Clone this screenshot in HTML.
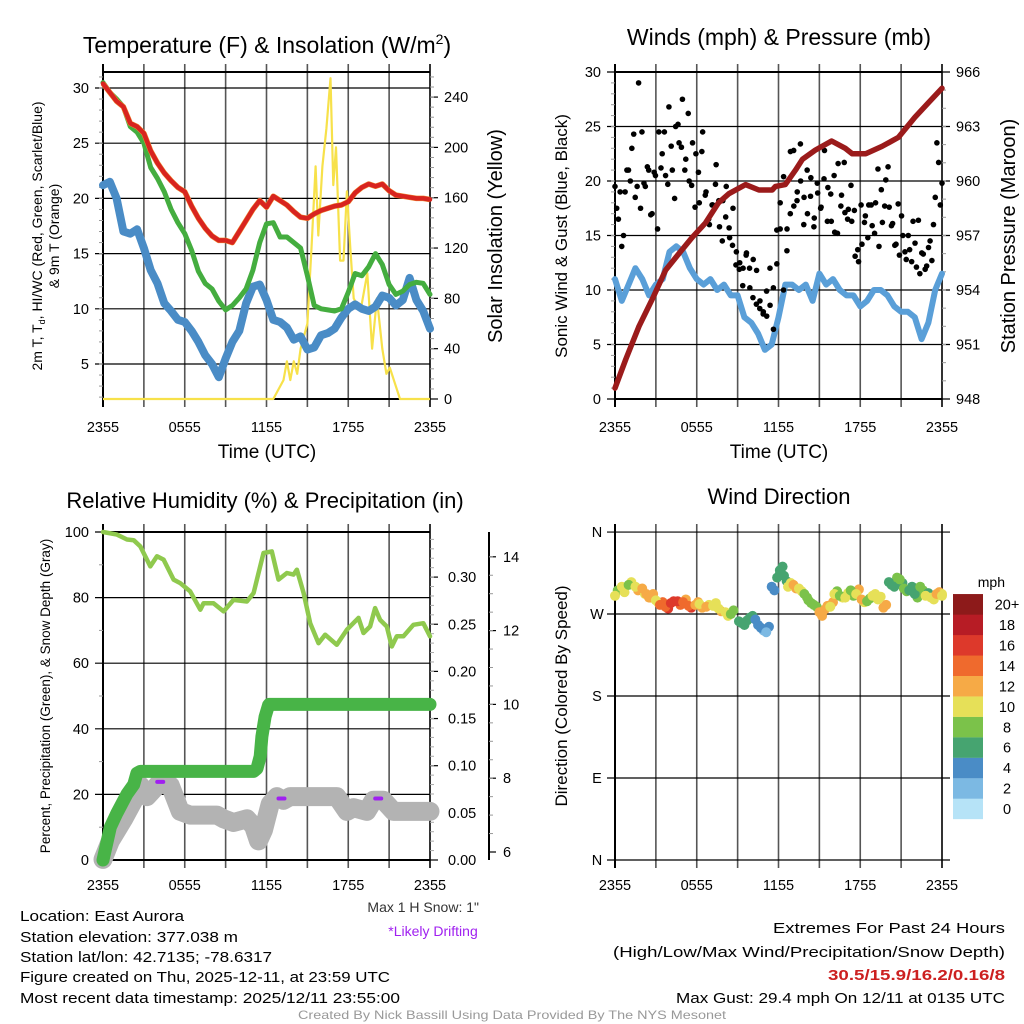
<!DOCTYPE html>
<html><head><meta charset="utf-8"><style>
html,body{margin:0;padding:0;background:#fff}
svg{display:block;font-family:"Liberation Sans",sans-serif}
</style></head><body>
<svg id="fig" width="1024" height="1024" viewBox="0 0 1024 1024" xmlns="http://www.w3.org/2000/svg">
<rect width="1024" height="1024" fill="#fff"/>
<g id="layer"></g>
<g fill="#000">
<text x="267" y="53" font-size="23" text-anchor="middle">Temperature (F) &amp; Insolation (W/m<tspan font-size="14" dy="-9">2</tspan><tspan dy="9">)</tspan></text>
<text x="779" y="45" font-size="23" text-anchor="middle">Winds (mph) &amp; Pressure (mb)</text>
<text x="265" y="508" font-size="22" text-anchor="middle">Relative Humidity (%) &amp; Precipitation (in)</text>
<text x="779" y="504" font-size="22" text-anchor="middle">Wind Direction</text>
<text x="267" y="458" font-size="19" text-anchor="middle">Time (UTC)</text>
<text x="779" y="458" font-size="19" text-anchor="middle">Time (UTC)</text>
<text transform="translate(42,236) rotate(-90)" font-size="14" text-anchor="middle">2m T, T<tspan font-size="9" dy="3">d</tspan><tspan dy="-3">, HI/WC (Red, Green, Scarlet/Blue)</tspan></text>
<text transform="translate(59,236) rotate(-90)" font-size="14" text-anchor="middle">&amp; 9m T (Orange)</text>
<text transform="translate(502,236) rotate(-90)" font-size="20" text-anchor="middle">Solar Insolation (Yellow)</text>
<text transform="translate(567,236) rotate(-90)" font-size="17" text-anchor="middle">Sonic Wind &amp; Gust (Blue, Black)</text>
<text transform="translate(1015,236) rotate(-90)" font-size="20" text-anchor="middle">Station Pressure (Maroon)</text>
<text transform="translate(50,696) rotate(-90)" font-size="13.5" text-anchor="middle">Percent, Precipitation (Green), &amp; Snow Depth (Gray)</text>
<text transform="translate(567,696) rotate(-90)" font-size="17" text-anchor="middle">Direction (Colored By Speed)</text>
<text x="1005" y="587" font-size="14" text-anchor="end">mph</text>
<text x="479" y="912" font-size="14" text-anchor="end" fill="#333">Max 1 H Snow: 1"</text>
<text x="433" y="936" font-size="14" text-anchor="middle" fill="#a020f0">*Likely Drifting</text>
<g font-size="14.5">
<text x="20" y="921" textLength="164" lengthAdjust="spacingAndGlyphs">Location: East Aurora</text>
<text x="20" y="942" textLength="218" lengthAdjust="spacingAndGlyphs">Station elevation: 377.038 m</text>
<text x="20" y="962" textLength="252" lengthAdjust="spacingAndGlyphs">Station lat/lon: 42.7135; -78.6317</text>
<text x="20" y="982" textLength="370" lengthAdjust="spacingAndGlyphs">Figure created on Thu, 2025-12-11, at 23:59 UTC</text>
<text x="20" y="1003" textLength="380" lengthAdjust="spacingAndGlyphs">Most recent data timestamp: 2025/12/11 23:55:00</text>
</g>
<g font-size="15" text-anchor="end">
<text x="1005" y="933" textLength="232" lengthAdjust="spacingAndGlyphs">Extremes For Past 24 Hours</text>
<text x="1005" y="957" textLength="392" lengthAdjust="spacingAndGlyphs">(High/Low/Max Wind/Precipitation/Snow Depth)</text>
<text x="1005" y="980" fill="#cc2020" font-weight="bold" textLength="177" lengthAdjust="spacingAndGlyphs">30.5/15.9/16.2/0.16/8</text>
<text x="1005" y="1003" textLength="329" lengthAdjust="spacingAndGlyphs">Max Gust: 29.4 mph On 12/11 at 0135 UTC</text>
</g>
<text x="512" y="1019" font-size="12" fill="#999" text-anchor="middle" textLength="428" lengthAdjust="spacingAndGlyphs">Created By Nick Bassill Using Data Provided By The NYS Mesonet</text>
</g>
</svg>
<script>
// ---- data (hours since 2355 UTC; 0.5 h grid unless noted) ----
const xTickLabels = ["2355","0555","1155","1755","2355"];
const tempF = [30.4,29.6,28.8,28.3,26.8,26.5,25.9,24.3,23.2,22.3,21.6,21,20.6,19.3,18.2,17.3,16.6,16.2,16.2,16,17,18,19,19.8,19.2,20.2,19.8,19.4,18.8,18.3,18.2,18.6,18.9,19.1,19.3,19.4,19.7,20.5,21,21.3,21.1,21.3,20.7,20.3,20.2,20.1,20,20,19.9];
const chillF = [30.5,29.6,29,28.3,26.5,26,25,22.8,21.8,20.6,19,17.8,16.8,15.3,13.4,12.3,11.8,10.7,9.9,10.3,11,11.8,13.5,16,17.7,17.8,16.5,16.5,16,15.5,13,10.3,10,9.9,9.8,10,11.5,13.2,13,13.8,15,14,12.2,11.3,11.6,12.2,12.4,12.3,11.3];
const dewF = [21.2,21.5,20,17,16.8,17.2,15.5,13.5,12.3,10.5,9.8,9,8.8,8,7,5.8,5,3.8,5.5,7,8,10.5,12,12.2,10.8,9,8.8,8.3,7.2,7.5,6.3,6.5,7.6,7.8,8.2,9.2,10,10.4,10,9.8,10.2,11.2,11,10.3,10.8,12.8,10.8,9.8,8.2];
const solarT = [0,12.5,13.25,13.5,13.75,14,14.25,14.5,14.75,15,15.3,15.6,15.8,16.1,16.4,16.7,16.9,17.1,17.4,17.65,17.9,18.15,18.4,18.9,19.4,19.75,20.1,20.5,20.8,21.05,21.8,24];
const solarW = [0,0,15,30,15,30,20,40,50,60,120,185,130,185,215,255,170,200,110,110,165,120,80,70,100,40,80,40,20,25,0,0];
const pressT = [0,0.8,1.76,2.74,3.72,4.69,5.67,6.65,7.6,8.36,9.58,10.56,11.54,11.78,12.5,13.25,13.76,14.7,15.9,16.9,17.4,18.4,19.6,20.8,22,23,24];
const pressMb = [948.6,950.2,952,953.5,955.1,956,956.9,957.7,958.8,959.3,959.8,959.5,959.5,959.7,959.8,960.6,961.2,961.7,962.2,961.8,961.5,961.5,961.9,962.4,963.5,964.3,965.1];
const windMph = [11,9,10.5,12,11,9.5,10.5,11,13.5,14,13.5,12,11,10.5,11,10,10.5,9.5,9.5,7.5,7,6,4.5,5,7.5,10.5,10.5,10,10.5,9,11.5,10.5,11,10,9.5,9.5,8.5,9,10,10,9.5,8.5,8,8,7.5,5.5,7,10,11.5];
const gustMph = [19.5,16.5,14,19,21,23,18.5,29,24.5,19.5,21,17,20.5,24.5,22.5,20.5,26.8,21,25,23.5,27.5,22,20,23.5,22.5,18,24.5,19,16,17.8,21.5,15.8,18.2,19.5,14.8,17.5,13.5,12.5,12,13.4,10.2,12.8,11.8,9,8,7.6,8.6,6.4,12.4,15.6,10,13.6,17,22.8,18.2,23.4,16,21,18.6,15.8,19.8,17.5,20.2,16.3,18.8,20.5,15.2,17.7,21.7,16.5,19.6,17.3,13.7,17.8,16.2,14.8,17.8,15.2,21.1,19.2,17.7,21.3,15.9,14.1,17.9,16.8,13.5,15,12.6,14.3,16.4,13.4,11.9,13.9,12.7,18.5,21.7,19.8];
const gustMph2 = [17.5,19,15,21,20,24.3,19.5,17.5,19.8,21.3,16.9,20.8,15.6,21.2,24.5,19.7,23.2,18.4,25.2,23.1,21,26.2,19.6,17.6,20.8,22.7,18.7,16.5,17.8,19.7,18.2,14.5,16.7,15.7,14.1,12.3,11.9,10.4,13.2,12,9.3,8.7,8.3,7.8,9.9,12,10.2,15.5,18,20.4,15.6,22.7,17.7,19,20,18.5,17,20.3,16.6,18.9,17.6,22.8,19.4,16.3,15.3,21.6,18.7,17.1,17.4,16.3,13.1,12.6,14.2,16.8,17.8,15.9,18,14,16.2,20.1,17.6,16.1,14.2,13.2,15,12.8,13.7,16.3,12.1,11.5,13.3,12.2,14.5,16,23.5,17.8];
const rhT = [0,1.03,1.76,2.25,2.74,3.47,3.96,4.45,5.18,5.67,6.4,7.14,7.38,8.11,8.85,9.58,10.56,11.05,11.78,12.39,12.88,13.5,13.98,14.23,14.72,15.21,15.82,16.31,17.16,17.9,18.75,19.12,19.6,19.97,20.34,20.83,21.2,21.56,22.05,22.78,23.51,24];
const rhPct = [100,99.2,97.7,97.5,95.6,89.5,92.6,91.6,85.5,84.4,81.9,76.3,78.3,78.3,75.8,79.3,78.8,81.4,93.6,94.1,85.5,87.5,87,88.5,81.4,72.2,66.1,68.7,65.6,70.2,73.8,69.2,71.2,76.8,73.2,71.2,65.1,68.2,68.2,71.7,72.2,68.2];
const precipT = [0,0.54,1.03,1.76,2.25,2.49,2.74,11.05,11.3,11.54,11.66,11.9,12.15,12.2,24];
const precipIn = [0,0.035,0.05,0.07,0.08,0.092,0.094,0.094,0.097,0.11,0.131,0.152,0.164,0.165,0.165];
const snowT = [0,0.54,1.52,2.25,2.74,3.23,3.72,4.2,4.94,5.67,6.4,7.6,8.36,8.85,9.58,10.56,11.05,11.41,11.78,12.27,12.76,13.25,13.74,17.16,17.9,18.39,19.36,19.85,20.58,21.32,24];
const snowIn = [5.8,6.3,6.9,7.4,7.8,7.5,7.7,7.9,7.8,7.1,7.0,7.0,7.0,6.9,6.8,6.9,6.7,6.3,6.6,7.3,7.5,7.4,7.5,7.5,7.1,7.2,7.1,7.4,7.4,7.1,7.1];
const driftT = [4.2,13.1,20.2];
const driftIn = [7.9,7.45,7.45];
const dirTime = [0,0.5,1,1.5,2,2.3,2.6,3,3.3,3.7,4.1,4.6,5,5.4,5.9,6.2,6.7,7.2,7.6,8.1,8.5,9.1,9.5,9.9,10.3,10.7,11.1,11.5,11.9,12.1,12.4,12.7,13.1,13.5,13.9,14.2,14.6,15,15.4,15.8,16.1,16.5,16.9,17.3,17.7,18.1,18.5,18.9,19.3,19.7,20.1,20.5,20.9,21.2,21.6,22,22.4,22.8,23.2,23.6,24];
const dirDeg = [290,300,302,300,298,292,288,285,280,278,282,284,283,279,280,281,278,279,276,272,270,262,258,266,264,255,250,300,310,318,312,300,302,298,292,285,280,272,275,278,292,290,288,296,292,286,284,290,286,277,305,300,308,298,296,292,300,290,288,292,290];
const dirSpd = [10,11,9,10,12,12,13,11,14,15,17,16,14,15,13,11,12,10,11,10,9,7,7,6,5,4,3,4,6,6,7,10,12,11,9,8,8,12,13,11,10,9,11,8,10,12,9,10,11,12,7,6,8,9,7,6,8,10,10,12,11];
const dirDeg2 = [296,294,305,296,292,288,292,282,283,276,284,280,286,277,283,277,280,282,273,268,274,260,263,268,258,252,256,296,314,322,306,304,298,295,288,282,278,268,279,283,295,288,293,290,297,283,287,292,289,280,302,310,304,295,300,288,296,293,286,294,292];
const dirSpd2 = [9,11,10,12,11,13,12,10,15,16,17,14,13,16,12,12,11,10,12,11,9,6,7,6,5,3,4,5,6,7,6,11,12,10,9,8,9,13,12,12,9,10,11,9,12,10,8,11,10,13,7,8,6,8,6,9,8,7,11,12,10];
const cbLabels = ["0","2","4","6","8","10","12","14","16","18","20+"];
const cbColors = ["#b6e3f7","#7cb9e3","#4a8cc6","#46a470","#7bc24a","#e6e058","#f6aa46","#ef6a2d","#dd392b","#b71c25","#8d1a1a"];

// ---- helpers ----
const NS = "http://www.w3.org/2000/svg";
const layer = document.getElementById('layer');
function mk(tag, attrs, parent) {
  const e = document.createElementNS(NS, tag);
  for (const k in attrs) e.setAttribute(k, attrs[k]);
  (parent || layer).appendChild(e);
  return e;
}
function grid(n){ const a=[]; for(let i=0;i<n;i++) a.push(i*24/(n-1)); return a; }
function pathD(ts, vs, fx, fy){ return ts.map((t,i)=>(i?'L':'M')+fx(t).toFixed(1)+' '+fy(vs[i]).toFixed(1)).join(''); }
function txt(x,y,s,size,anchor,parent){ const e=mk('text',{x:x,y:y,'font-size':size,'text-anchor':anchor||'middle'},parent); e.textContent=s; return e; }

function frame(x0,x1,y0,y1,labelY,name){
  const g = mk('g',{});
  
  
  for (let h=3; h<24; h+=3){
    const x = x0 + h/24*(x1-x0);
    mk('line',{x1:x,x2:x,y1:y0-8,y2:y1+8,stroke:'#555','stroke-width':1.6},g);
  }
  mk('line',{x1:x0,x2:x0,y1:y0-8,y2:y1+8,stroke:'#000','stroke-width':2},g);
  mk('line',{x1:x1,x2:x1,y1:y0-8,y2:y1+8,stroke:'#333','stroke-width':2},g);
  xTickLabels.forEach((s,i)=>{ const t=txt(x0+i*6/24*(x1-x0), labelY, s, 14.5, 'middle', g);
      });
  return g;
}

// ===== Panel 1: temperature =====
(function(){
  const x0=103,x1=430,y0=72,y1=399;
  const fx=t=>x0+t/24*(x1-x0);
  const fy=v=>364-(v-5)*11.04;
  const fs=v=>399-v*1.258;
  const g=frame(x0,x1,y0,y1,432,'temperature');
  [5,10,15,20,25,30].forEach(v=>{ mk('line',{x1:x0-8,x2:x1,y1:fy(v),y2:fy(v),stroke:'#000','stroke-width':1.2},g);
    const t=txt(x0-14,fy(v)+5,String(v),14.5,'end',g);   });
  for(let v=2;v<=31;v++) mk('line',{x1:x0-4,x2:x0,y1:fy(v),y2:fy(v),stroke:'#999','stroke-width':1},g);
  [0,40,80,120,160,200,240].forEach(v=>{ mk('line',{x1:x1,x2:x1+8,y1:fs(v),y2:fs(v),stroke:'#000','stroke-width':1.2},g);
    const t=txt(x1+14,fs(v)+5,String(v),14.5,'start',g);   });
  for(let v=8;v<=256;v+=8) mk('line',{x1:x1,x2:x1+4,y1:fs(v),y2:fs(v),stroke:'#999','stroke-width':1},g);
  mk('line',{x1:x0,x2:x1,y1:y0,y2:y0,stroke:'#000','stroke-width':2},g);
  const T=grid(49);
  let p=mk('path',{d:pathD(solarT,solarW,fx,fs),fill:'none',stroke:'#f7e14a','stroke-width':2.2,'stroke-linejoin':'round'});
   
  p=mk('path',{d:pathD(T,dewF,fx,fy),fill:'none',stroke:'#4a8cc6','stroke-width':8,'stroke-linejoin':'round','stroke-linecap':'round'});
   
  p=mk('path',{d:pathD(T,chillF,fx,fy),fill:'none',stroke:'#44ad3f','stroke-width':5,'stroke-linejoin':'round','stroke-linecap':'round'});
   
  p=mk('path',{d:pathD(T,tempF,fx,fy),fill:'none',stroke:'#f08a30','stroke-width':5.5,'stroke-linejoin':'round'});
   
  p=mk('path',{d:pathD(T,tempF,fx,fy),fill:'none',stroke:'#d8241f','stroke-width':4.5,'stroke-linejoin':'round','stroke-linecap':'round'});
   
  mk('line',{x1:x0,x2:x1,y1:y1,y2:y1,stroke:'#000','stroke-width':2},g);
})();

// ===== Panel 2: wind & pressure =====
(function(){
  const x0=615,x1=942,y0=72,y1=399;
  const fx=t=>x0+t/24*(x1-x0);
  const fy=v=>399-v*10.9;
  const fp=v=>399-(v-948)*18.17;
  const g=frame(x0,x1,y0,y1,432,'wind');
  [0,5,10,15,20,25,30].forEach(v=>{ mk('line',{x1:x0-8,x2:x1+8,y1:fy(v),y2:fy(v),stroke:'#000','stroke-width':1.2},g);
    const t=txt(x0-14,fy(v)+5,String(v),14.5,'end',g);   });
  for(let v=1;v<30;v++) mk('line',{x1:x0-4,x2:x0,y1:fy(v),y2:fy(v),stroke:'#999','stroke-width':1},g);
  [948,951,954,957,960,963,966].forEach(v=>{ const t=txt(x1+14,fp(v)+5,String(v),14.5,'start',g);   });
  for(let v=949;v<966;v++) mk('line',{x1:x1,x2:x1+4,y1:fp(v),y2:fp(v),stroke:'#999','stroke-width':1},g);
  const T=grid(49);
  let p=mk('path',{d:pathD(T,windMph,fx,fy),fill:'none',stroke:'#5a9fd8','stroke-width':6,'stroke-linejoin':'round','stroke-linecap':'round'});
   
  const GT=grid(gustMph.length);
  gustMph.forEach((v,i)=>{ const c=mk('circle',{cx:fx(GT[i]),cy:fy(v),r:2.8,fill:'#000'});
    
     });
  gustMph2.forEach((v,i)=>{ const c=mk('circle',{cx:fx((i+0.5)*0.25),cy:fy(v),r:2.8,fill:'#000'});
    
     });
  p=mk('path',{d:pathD(pressT,pressMb,fx,fp),fill:'none',stroke:'#9b1b1b','stroke-width':5.5,'stroke-linejoin':'round','stroke-linecap':'round'});
   
  mk('line',{x1:x0,x2:x1,y1:y0,y2:y0,stroke:'#000','stroke-width':2},g);
  mk('line',{x1:x0,x2:x1,y1:y1,y2:y1,stroke:'#000','stroke-width':2},g);
})();

// ===== Panel 3: RH, precip, snow =====
(function(){
  const x0=103,x1=430,y0=532,y1=860;
  const fx=t=>x0+t/24*(x1-x0);
  const fy=v=>860-v*3.28;
  const fr=v=>860-v*943;
  const fsn=v=>852-(v-6)*36.9;
  const g=frame(x0,x1,y0,y1,890,'humidity');
  [0,20,40,60,80,100].forEach(v=>{ mk('line',{x1:x0-8,x2:x1,y1:fy(v),y2:fy(v),stroke:'#000','stroke-width':1.2},g);
    const t=txt(x0-14,fy(v)+5,String(v),14.5,'end',g);   });
  for(let v=10;v<100;v+=20) mk('line',{x1:x0-4,x2:x0,y1:fy(v),y2:fy(v),stroke:'#999','stroke-width':1},g);
  ['0.00','0.05','0.10','0.15','0.20','0.25','0.30'].forEach((s,i)=>{ const v=i*0.05;
    mk('line',{x1:x1,x2:x1+8,y1:fr(v),y2:fr(v),stroke:'#000','stroke-width':1.2},g);
    const t=txt(x1+18,fr(v)+5,s,14.5,'start',g);   });
  for(let v=0.01;v<0.345;v+=0.01) mk('line',{x1:x1,x2:x1+4,y1:fr(v),y2:fr(v),stroke:'#aaa','stroke-width':1},g);
  mk('line',{x1:489,x2:489,y1:532,y2:860,stroke:'#000','stroke-width':2},g);
  [6,8,10,12,14].forEach(v=>{ mk('line',{x1:489,x2:496,y1:fsn(v),y2:fsn(v),stroke:'#000','stroke-width':1.2},g);
    const t=txt(503,fsn(v)+5,String(v),14.5,'start',g);   });
  for(let v=6.5;v<14.5;v+=0.5) mk('line',{x1:489,x2:493,y1:fsn(v),y2:fsn(v),stroke:'#999','stroke-width':1},g);
  mk('line',{x1:x0,x2:x1,y1:y0,y2:y0,stroke:'#000','stroke-width':2},g);
  let p=mk('path',{d:pathD(snowT,snowIn,fx,fsn),fill:'none',stroke:'#b3b3b3','stroke-width':19,'stroke-linejoin':'round','stroke-linecap':'round'});
   
  p=mk('path',{d:pathD(precipT,precipIn,fx,fr),fill:'none',stroke:'#48b447','stroke-width':13,'stroke-linejoin':'round','stroke-linecap':'round'});
   
  p=mk('path',{d:pathD(rhT,rhPct,fx,fy),fill:'none',stroke:'#8fc94e','stroke-width':4.5,'stroke-linejoin':'round','stroke-linecap':'round'});
   
  driftT.forEach((t,i)=>{ const e=mk('line',{x1:fx(t)-3,x2:fx(t)+3,y1:fsn(driftIn[i]),y2:fsn(driftIn[i]),stroke:'#a020f0','stroke-width':4,'stroke-linecap':'round'});
    
     });
  mk('line',{x1:x0,x2:x1,y1:y1,y2:y1,stroke:'#000','stroke-width':2},g);
})();

// ===== Panel 4: wind direction =====
(function(){
  const x0=615,x1=942,y0=532,y1=860;
  const fx=t=>x0+t/24*(x1-x0);
  const fy=d=>860-d*0.911;
  const g=frame(x0,x1,y0,y1,890,'direction');
  [['N',360],['W',270],['S',180],['E',90],['N',0]].forEach(([s,d])=>{
    mk('line',{x1:x0-8,x2:x1+8,y1:fy(d),y2:fy(d),stroke:'#000','stroke-width':1.2},g);
    const t=txt(x0-18,fy(d)+5,s,14.5,'middle',g);   });
  dirDeg2.forEach((d,i)=>{ const k=Math.min(10,Math.floor(dirSpd2[i]/2));
    const c=mk('circle',{cx:fx(Math.min(24,dirTime[i]+0.2)),cy:fy(d),r:5,fill:cbColors[k]});
    
     });
  dirDeg.forEach((d,i)=>{ const k=Math.min(10,Math.floor(dirSpd[i]/2));
    const c=mk('circle',{cx:fx(dirTime[i]),cy:fy(d),r:5,fill:cbColors[k]});
    
     });
  const cb=mk('g',{});
  
  
  cbColors.forEach((c,i)=>{ const y=819-(i+1)*20.45;
    mk('rect',{x:953,y:y,width:30,height:20.6,fill:c},cb);
    const t=txt(1007,y+15.5,cbLabels[i],14.5,'middle',cb);   });
})();
</script>
</body></html>
